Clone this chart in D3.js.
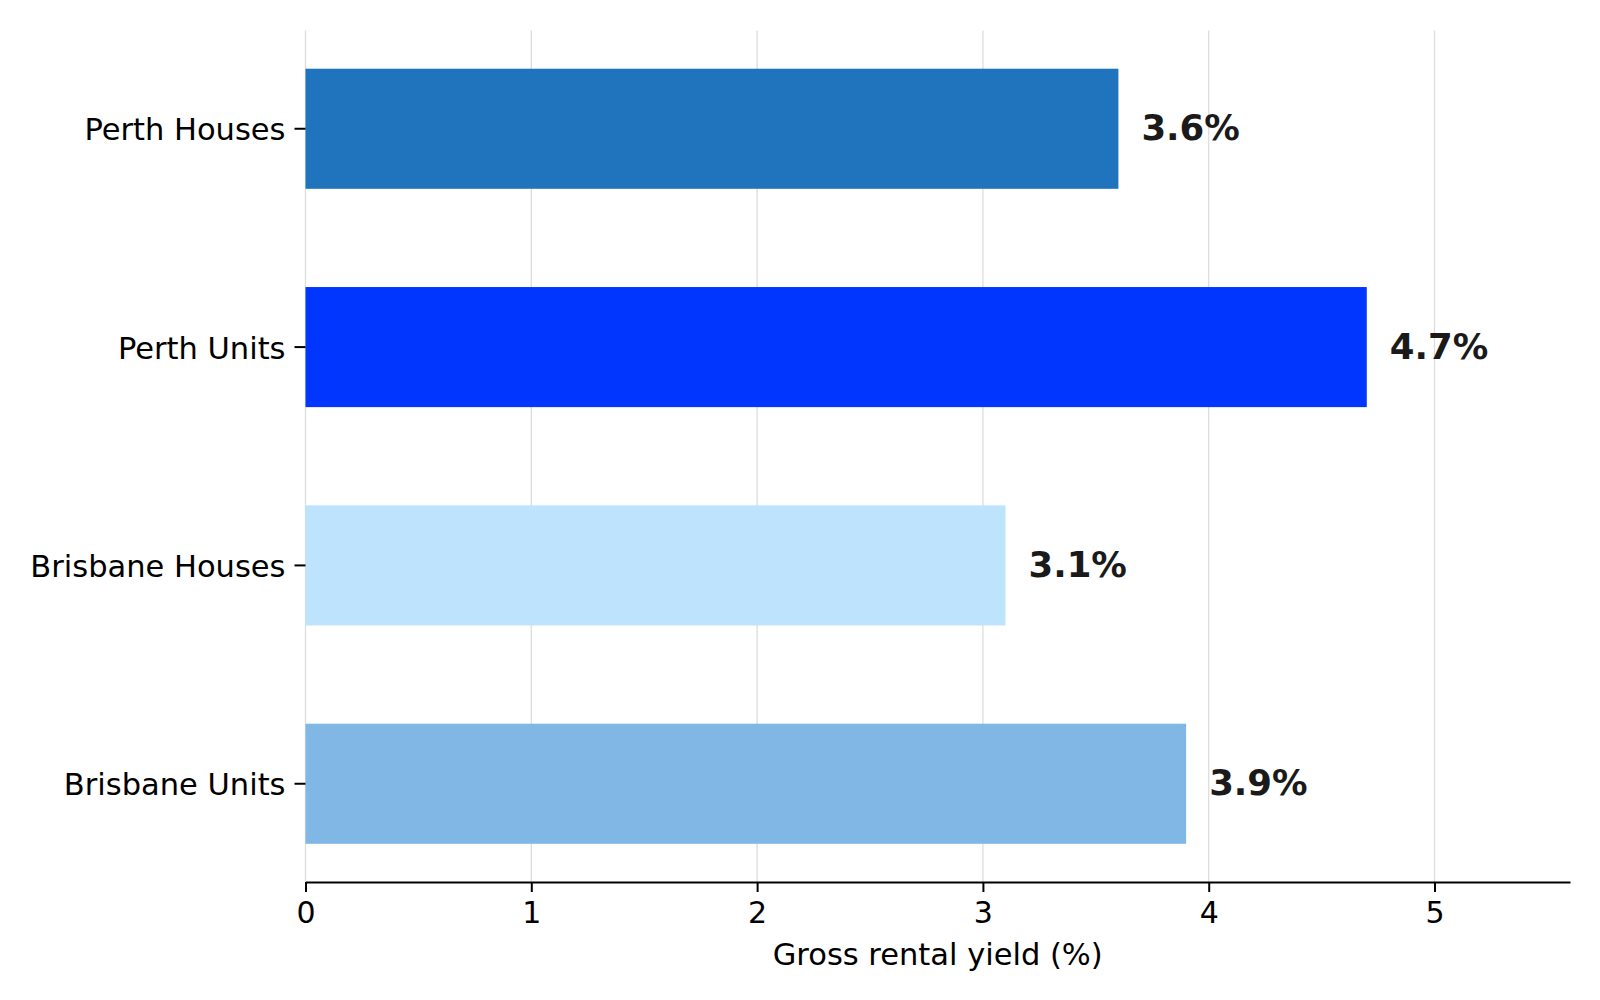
<!DOCTYPE html>
<html>
<head>
<meta charset="utf-8">
<script src="https://cdn.jsdelivr.net/npm/d3@7"></script>
<style>
  body { margin: 0; background: #fff; }
  text { font-family: "DejaVu Sans", sans-serif; }
</style>
</head>
<body>
<div id="chart"></div>
<script>
// data
var categories = ["Perth Houses", "Perth Units", "Brisbane Houses", "Brisbane Units"];
var yields = [3.6, 4.7, 3.1, 3.9];
var barColors = ["#1f74bd", "#0036ff", "#bee3fd", "#80b7e5"];
var xTicks = [0, 1, 2, 3, 4, 5];

var width = 1600, height = 1000;
var margin = {left: 305.5, right: 30, top: 30.5, bottom: 118};

var svg = d3.select("#chart").append("svg")
    .attr("width", width)
    .attr("height", height);

var x = d3.scaleLinear()
    .domain([0, 5.6])
    .range([margin.left, width - margin.right]);

var y = d3.scaleBand()
    .domain(categories)
    .range([margin.top, height - margin.bottom])
    .paddingInner(0.45)
    .paddingOuter(0.175);

// gridlines
svg.append("g")
   .selectAll("line")
   .data(xTicks)
   .enter()
   .append("line")
   .attr("x1", d => x(d))
   .attr("x2", d => x(d))
   .attr("y1", margin.top)
   .attr("y2", height - margin.bottom)
   .attr("stroke", "#dddddd")
   .attr("stroke-width", 1.3);

// bars
svg.append("g")
   .selectAll("rect")
   .data(categories)
   .enter()
   .append("rect")
   .attr("x", x(0))
   .attr("y", d => y(d))
   .attr("width", (d, i) => x(yields[i]) - x(0))
   .attr("height", y.bandwidth())
   .attr("fill", (d, i) => barColors[i]);

// value labels
svg.append("g")
   .selectAll("text")
   .data(categories)
   .enter()
   .append("text")
   .attr("x", (d, i) => x(yields[i]) + 23)
   .attr("y", d => y(d) + y.bandwidth() / 2)
   .attr("dy", "0.33em")
   .attr("font-size", 35.5)
   .attr("font-weight", "bold")
   .attr("fill", "#1a1a1a")
   .text((d, i) => yields[i].toFixed(1) + "%");

// x axis
var xAxis = svg.append("g")
   .attr("transform", "translate(0," + (height - margin.bottom) + ")")
   .call(d3.axisBottom(x).tickValues(xTicks).tickSize(10).tickSizeOuter(0).tickPadding(10).tickFormat(d3.format("d")));
xAxis.select(".domain").attr("stroke", "#000").attr("stroke-width", 2);
xAxis.selectAll(".tick line").attr("stroke", "#000").attr("stroke-width", 2);
xAxis.selectAll(".tick text").attr("font-size", 30).attr("fill", "#000")
     .attr("font-family", "DejaVu Sans, sans-serif");

// y axis (ticks only, no spine)
var yAxis = svg.append("g")
   .attr("transform", "translate(" + margin.left + ",0)")
   .call(d3.axisLeft(y).tickSize(11).tickPadding(9));
yAxis.select(".domain").remove();
yAxis.selectAll(".tick line").attr("stroke", "#000").attr("stroke-width", 2);
yAxis.selectAll(".tick text").attr("font-size", 30.5).attr("fill", "#000")
     .attr("dy", "0.38em")
     .attr("font-family", "DejaVu Sans, sans-serif");

// axis title
svg.append("text")
   .attr("x", (x(0) + x(5.6)) / 2)
   .attr("y", 965)
   .attr("text-anchor", "middle")
   .attr("font-size", 30.5)
   .attr("fill", "#000")
   .text("Gross rental yield (%)");
</script>
</body>
</html>
